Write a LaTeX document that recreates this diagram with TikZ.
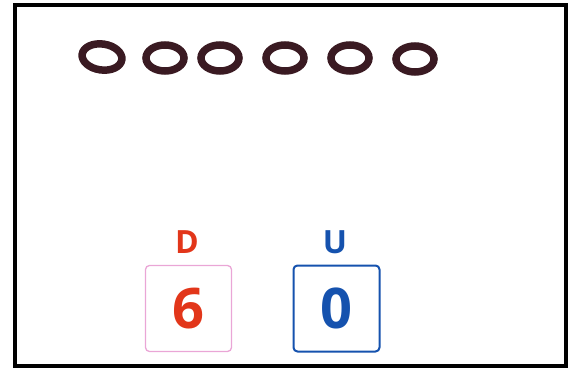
\documentclass[tikz,border=0pt]{standalone}
\usepackage{fontspec}
\setmainfont{Open Sans}
\usetikzlibrary{shapes.geometric}
\definecolor{ringc}{HTML}{3A1A22}
\definecolor{dred}{HTML}{E2361A}
\definecolor{dpink}{HTML}{EAA6D6}
\definecolor{ublue}{HTML}{1552AE}
\tikzset{
  ring/.style={ellipse, draw=ringc, line width=7.5pt, minimum width=38pt, minimum height=26pt, inner sep=0pt},
  digitbox/.style={rectangle, rounded corners=4pt, minimum width=86pt, minimum height=86pt, inner sep=0pt, font=\fontsize{56}{56}\selectfont\bfseries},
  lab/.style={font=\fontsize{32}{32}\selectfont\bfseries, inner sep=0pt}
}
\begin{document}
\begin{tikzpicture}[x=1pt,y=-1pt]
\useasboundingbox (0,0) rectangle (574,369);
\draw[line width=3.5pt, black] (15,5) rectangle (566,366);
\node[ring, rotate=-8, minimum width=40pt] (r1) at (102,57) {};
\node[ring] (r2) at (165,58) {};
\node[ring] (r3) at (220,58) {};
\node[ring] (r4) at (285,58) {};
\node[ring] (r5) at (350,58) {};
\node[ring] (r6) at (415,59) {};
\node[digitbox, draw=dpink, line width=1.3pt, text=dred] (d) at (188.5,308.5) {6};
\node[digitbox, draw=ublue, line width=2pt, text=ublue] (u) at (336.5,308.5) {0};
\node[lab, text=dred] (dl) at (187,242) {D};
\node[lab, text=ublue] (ul) at (335,242) {U};
\end{tikzpicture}
\end{document}
